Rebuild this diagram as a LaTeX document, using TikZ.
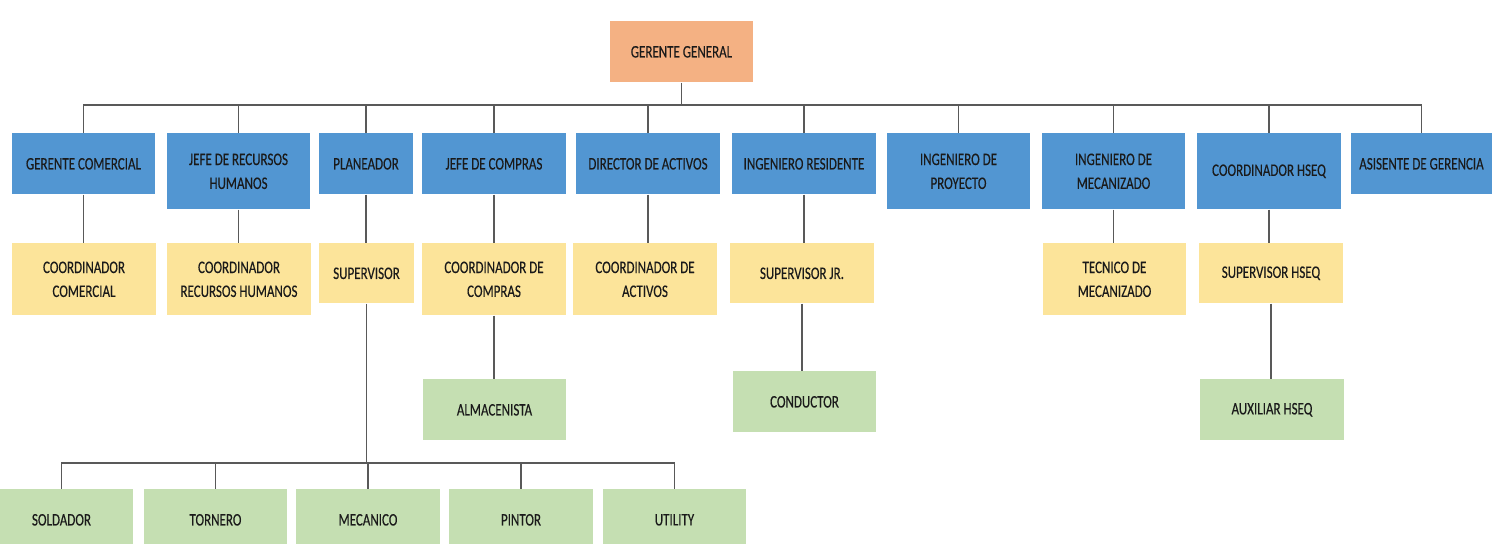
\documentclass[tikz,border=0pt]{standalone}
\usepackage{fontspec}
\setmainfont[FakeStretch=0.74, FakeBold=0.3]{Carlito}
\usetikzlibrary{positioning}
\definecolor{naranja}{HTML}{F4B183}
\definecolor{azul}{HTML}{5296D2}
\definecolor{amarillo}{HTML}{FCE49A}
\definecolor{verde}{HTML}{C5DFB2}
\definecolor{linea}{HTML}{595959}
\definecolor{texto}{HTML}{1A1A1A}

\begin{document}
\begin{tikzpicture}[x=0.02cm, y=-0.02cm,
  caja/.style={minimum width=2.88cm, minimum height=1.22cm, inner sep=1pt,
    align=center, anchor=north, text=texto,
    font=\fontsize{10}{13.6}\selectfont},
  cajanaranja/.style={caja, fill=naranja},
  cajaazul/.style={caja, fill=azul},
  cajaamarilla/.style={caja, fill=amarillo},
  cajaverde/.style={caja, fill=verde},
  alta/.style={minimum height=1.52cm},
  media/.style={minimum height=1.44cm},
  baja/.style={minimum height=1.2cm},
  angosta/.style={minimum width=1.9cm},
  linea/.style={draw=linea, line width=0.8pt}]
  \useasboundingbox (0,0) rectangle (1499,544);

  % Define the boxes
  \node[cajanaranja, minimum width=2.86cm] (gg) at (681.5,21) {GERENTE GENERAL};

  \node[cajaazul] (gc) at (83.5,133) {GERENTE COMERCIAL};
  \node[cajaazul, alta] (jrh) at (238.5,133) {JEFE DE RECURSOS\\HUMANOS};
  \node[cajaazul, angosta] (pla) at (366,133) {PLANEADOR};
  \node[cajaazul] (jc) at (494,133) {JEFE DE COMPRAS};
  \node[cajaazul] (da) at (648,133) {DIRECTOR DE ACTIVOS};
  \node[cajaazul] (ir) at (804,133) {INGENIERO RESIDENTE};
  \node[cajaazul, alta] (ip) at (958.5,133) {INGENIERO DE\\PROYECTO};
  \node[cajaazul, alta] (im) at (1113.5,133) {INGENIERO DE\\MECANIZADO};
  \node[cajaazul, alta] (ch) at (1269,133) {COORDINADOR HSEQ};
  \node[cajaazul, minimum width=2.82cm] (ag) at (1421.5,133) {ASISENTE DE GERENCIA};

  \node[cajaamarilla, media] (cc) at (84,243) {COORDINADOR\\COMERCIAL};
  \node[cajaamarilla, media] (crh) at (239,243) {COORDINADOR\\RECURSOS HUMANOS};
  \node[cajaamarilla, baja, angosta] (sup) at (366.5,243) {SUPERVISOR};
  \node[cajaamarilla, media] (cco) at (494,243) {COORDINADOR DE\\COMPRAS};
  \node[cajaamarilla, media] (cda) at (645,243) {COORDINADOR DE\\ACTIVOS};
  \node[cajaamarilla, baja] (sjr) at (802,243) {SUPERVISOR JR.};
  \node[cajaamarilla, media] (tm) at (1114.5,243) {TECNICO DE\\MECANIZADO};
  \node[cajaamarilla, baja] (sh) at (1271,243) {SUPERVISOR HSEQ};

  \node[cajaverde] (alm) at (494.5,379) {ALMACENISTA};
  \node[cajaverde] (con) at (804.5,371) {CONDUCTOR};
  \node[cajaverde] (aux) at (1272,379) {AUXILIAR HSEQ};

  \node[cajaverde] (sol) at (61.5,489) {SOLDADOR};
  \node[cajaverde] (tor) at (215.5,489) {TORNERO};
  \node[cajaverde] (mec) at (368,489) {MECANICO};
  \node[cajaverde] (pin) at (521,489) {PINTOR};
  \node[cajaverde] (uti) at (674.5,489) {UTILITY};

  % Draw the lines
  \coordinate (b1) at (681.5,105);
  \draw[linea] (gg.south) -- (b1);
  \foreach \n in {gc,jrh,pla,jc,da,ir,ip,im,ch,ag}
    \draw[linea] (b1) -| (\n.north);

  \foreach \a/\b in {gc/cc, jrh/crh, pla/sup, jc/cco, da/cda, ir/sjr, im/tm,
      ch/sh, cco/alm, sjr/con, sh/aux}
    \draw[linea] (\a.south) -- (\a.south |- \b.north);

  \coordinate (b2) at (366.5,463);
  \draw[linea] (sup.south) -- (b2);
  \foreach \n in {sol,tor,mec,pin,uti}
    \draw[linea] (b2) -| (\n.north);
\end{tikzpicture}
\end{document}
